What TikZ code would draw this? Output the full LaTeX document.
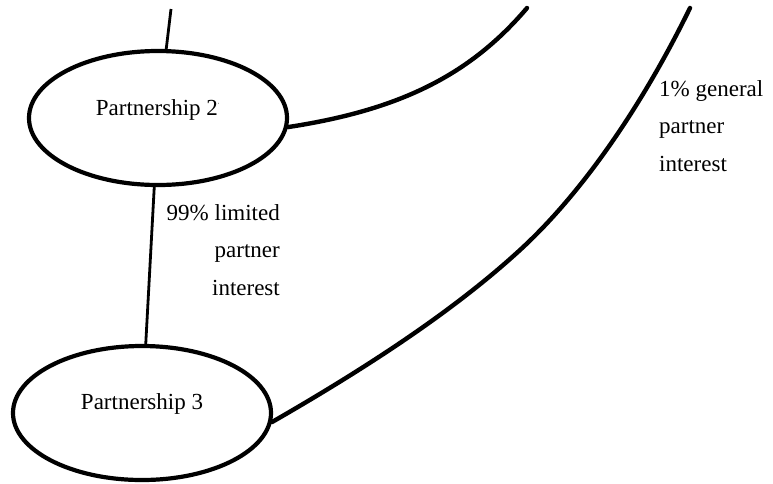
\documentclass[tikz,border=0pt]{standalone}
\usepackage{fontspec}
\setmainfont{Liberation Serif}
\usetikzlibrary{shapes.geometric}
\begin{document}
\begin{tikzpicture}[x=1pt,y=1pt,
  entity/.style={ellipse,draw,line width=4.2pt,minimum width=258pt,minimum height=134pt,inner sep=0pt,font=\fontsize{23}{26}\selectfont},
  stake/.style={line width=2.8pt},
  share/.style={line width=4.4pt,line cap=round},
  note/.style={inner sep=0pt,font=\fontsize{23}{37.5}\selectfont}]
\useasboundingbox (0,0) rectangle (773,-483);
% partnerships
\node[entity] (p2) at (158,-118) {\raisebox{20pt}{Partnership 2\textsuperscript{\tiny`}}};
\node[entity] (p3) at (142,-413) {\raisebox{22pt}{Partnership 3}};
% free ends of the connectors leaving the top edge
\coordinate (t2) at (171,-9);
\coordinate (ta) at (527,-8);
\coordinate (tb) at (690,-8);
% ownership links
\draw[stake] (t2) -- (p2);
\draw[stake] (p2) -- (p3);
\draw[share] (p2.-4) .. controls (400,-110) and (470,-75) .. (ta);
\draw[share] (p3.-4) .. controls (380,-360) and (460,-305) .. (520,-250)
  .. controls (580,-195) and (640,-110) .. (tb);
% interest labels
\node[note,anchor=north east,align=right] (lp) at (280,-204) {99\% limited\\partner\\interest};
\node[note,anchor=north west,align=left] (gp) at (659,-80) {1\% general\\partner\\interest};
\end{tikzpicture}
\end{document}
